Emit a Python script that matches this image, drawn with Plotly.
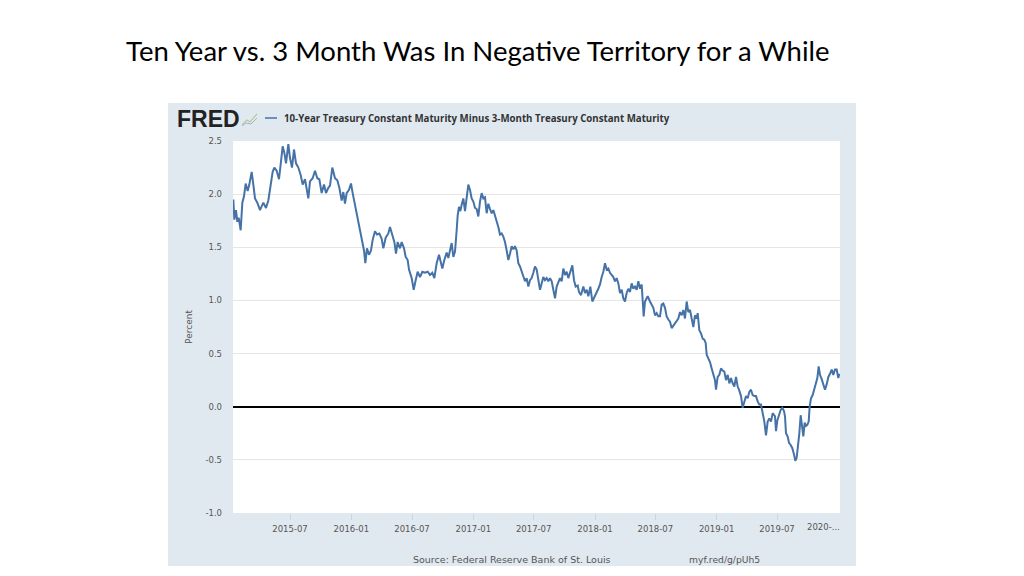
import plotly.graph_objects as go

# ---------------- data ----------------
dates = [
    "2015-01-12", "2015-01-15", "2015-01-20", "2015-01-24", "2015-01-28", "2015-02-03", "2015-02-08", "2015-02-13",
    "2015-02-18", "2015-02-24", "2015-03-01", "2015-03-08", "2015-03-13", "2015-03-18", "2015-03-25", "2015-04-02",
    "2015-04-12", "2015-04-20", "2015-04-27", "2015-05-02", "2015-05-10", "2015-05-15", "2015-05-22", "2015-05-29",
    "2015-06-03", "2015-06-09", "2015-06-14", "2015-06-19", "2015-06-26", "2015-07-01", "2015-07-07", "2015-07-13",
    "2015-07-19", "2015-07-26", "2015-08-02", "2015-08-08", "2015-08-15", "2015-08-20", "2015-08-25", "2015-08-30",
    "2015-09-07", "2015-09-14", "2015-09-21", "2015-09-27", "2015-10-04", "2015-10-11", "2015-10-17", "2015-10-24",
    "2015-10-29", "2015-11-05", "2015-11-13", "2015-11-20", "2015-11-26",
    "2015-12-03", "2015-12-08", "2015-12-13", "2015-12-18", "2015-12-25", "2015-12-31", "2016-01-05", "2016-01-10",
    "2016-01-15", "2016-01-20", "2016-01-24", "2016-01-29", "2016-02-03", "2016-02-08", "2016-02-12", "2016-02-17",
    "2016-02-23", "2016-02-29", "2016-03-05", "2016-03-12", "2016-03-18", "2016-03-25", "2016-04-01", "2016-04-06",
    "2016-04-13", "2016-04-21", "2016-04-26", "2016-05-03", "2016-05-09", "2016-05-14", "2016-05-19", "2016-05-26",
    "2016-05-31", "2016-06-07", "2016-06-12", "2016-06-18", "2016-06-22", "2016-06-30", "2016-07-06", "2016-07-12",
    "2016-07-18", "2016-07-25", "2016-08-01", "2016-08-09", "2016-08-17", "2016-08-24", "2016-08-31", "2016-09-06",
    "2016-09-13", "2016-09-20", "2016-09-26", "2016-09-30", "2016-10-06", "2016-10-13",
    "2016-10-18", "2016-10-23", "2016-10-28", "2016-11-02", "2016-11-07", "2016-11-12", "2016-11-15", "2016-11-19",
    "2016-11-23", "2016-11-27", "2016-12-02", "2016-12-07", "2016-12-12", "2016-12-17", "2016-12-22", "2016-12-27",
    "2017-01-01", "2017-01-06", "2017-01-11", "2017-01-16", "2017-01-21", "2017-01-26", "2017-01-31", "2017-02-05",
    "2017-02-10", "2017-02-15", "2017-02-20", "2017-02-25", "2017-03-02", "2017-03-07", "2017-03-12", "2017-03-17",
    "2017-03-22", "2017-03-27", "2017-04-01", "2017-04-06", "2017-04-11", "2017-04-16", "2017-04-21", "2017-04-26",
    "2017-05-01", "2017-05-06", "2017-05-11", "2017-05-16", "2017-05-21", "2017-05-26", "2017-05-31", "2017-06-05",
    "2017-06-10", "2017-06-15", "2017-06-20", "2017-06-25", "2017-06-30", "2017-07-05", "2017-07-10", "2017-07-15",
    "2017-07-20", "2017-07-25", "2017-07-30", "2017-08-04", "2017-08-09", "2017-08-14", "2017-08-19", "2017-08-24",
    "2017-08-29", "2017-09-03", "2017-09-08", "2017-09-13",
    "2017-09-18", "2017-09-23", "2017-09-28", "2017-10-03", "2017-10-08", "2017-10-13", "2017-10-18", "2017-10-25",
    "2017-10-30", "2017-11-04", "2017-11-10", "2017-11-14", "2017-11-20", "2017-11-27", "2017-12-02", "2017-12-07",
    "2017-12-12", "2017-12-18", "2017-12-24", "2017-12-30", "2018-01-05", "2018-01-11", "2018-01-16", "2018-01-21",
    "2018-01-26", "2018-01-31", "2018-02-05", "2018-02-10", "2018-02-15", "2018-02-20", "2018-02-25", "2018-03-02",
    "2018-03-07", "2018-03-12", "2018-03-17", "2018-03-22", "2018-03-27", "2018-04-01", "2018-04-06", "2018-04-11",
    "2018-04-16", "2018-04-21", "2018-04-26", "2018-05-01", "2018-05-06", "2018-05-11", "2018-05-16", "2018-05-21",
    "2018-05-24", "2018-05-27", "2018-05-31", "2018-06-08", "2018-06-15", "2018-06-20", "2018-06-25", "2018-06-30",
    "2018-07-05", "2018-07-10", "2018-07-15", "2018-07-20", "2018-07-25", "2018-07-30", "2018-08-04", "2018-08-09",
    "2018-08-14", "2018-08-19", "2018-08-24", "2018-08-29", "2018-09-03", "2018-09-08", "2018-09-13", "2018-09-18",
    "2018-09-23", "2018-09-28", "2018-10-03", "2018-10-08", "2018-10-13", "2018-10-18", "2018-10-23", "2018-10-28",
    "2018-11-02", "2018-11-05", "2018-11-10", "2018-11-15", "2018-11-20", "2018-11-25", "2018-11-29", "2018-12-02",
    "2018-12-07", "2018-12-12", "2018-12-17", "2018-12-22", "2018-12-27", "2018-12-30", "2019-01-04", "2019-01-09",
    "2019-01-14", "2019-01-19", "2019-01-24", "2019-01-29", "2019-02-03", "2019-02-08", "2019-02-13", "2019-02-18",
    "2019-02-23", "2019-02-28", "2019-03-05", "2019-03-09", "2019-03-15", "2019-03-20", "2019-03-25", "2019-03-30",
    "2019-04-04", "2019-04-09", "2019-04-14", "2019-04-19", "2019-04-24", "2019-04-29", "2019-05-04", "2019-05-09",
    "2019-05-14", "2019-05-17", "2019-05-21", "2019-05-24", "2019-05-29", "2019-06-03", "2019-06-08", "2019-06-13",
    "2019-06-18", "2019-06-25", "2019-06-28", "2019-07-02", "2019-07-07", "2019-07-12", "2019-07-17", "2019-07-22",
    "2019-07-25", "2019-07-28", "2019-08-02", "2019-08-06", "2019-08-11", "2019-08-16", "2019-08-21", "2019-08-25",
    "2019-08-29", "2019-09-02", "2019-09-06", "2019-09-10", "2019-09-14", "2019-09-18", "2019-09-22", "2019-09-26",
    "2019-09-30", "2019-10-04", "2019-10-07", "2019-10-11", "2019-10-16", "2019-10-21", "2019-10-26", "2019-10-30",
    "2019-11-03", "2019-11-07", "2019-11-12", "2019-11-17", "2019-11-22", "2019-11-27", "2019-12-02", "2019-12-07",
    "2019-12-12", "2019-12-17", "2019-12-22", "2019-12-27", "2020-01-01", "2020-01-04",
]

spread = [
    1.95, 1.76, 1.85, 1.74, 1.78, 1.66, 1.92, 1.98,
    2.10, 2.03, 2.09, 2.21, 2.09, 1.96, 1.92, 1.85,
    1.92, 1.87, 1.94, 2.06, 2.21, 2.25, 2.22, 2.14,
    2.28, 2.45, 2.39, 2.29, 2.47, 2.34, 2.25, 2.42,
    2.29, 2.25, 2.18, 2.09, 2.14, 2.06, 1.96, 2.12,
    2.15, 2.22, 2.15, 2.14, 2.01, 2.09, 2.01, 2.06,
    2.08, 2.25, 2.15, 2.13, 2.06,
    1.94, 2.02, 1.91, 2.01, 2.04, 2.10, 2.01, 1.93,
    1.82, 1.76, 1.71, 1.62, 1.55, 1.47, 1.35, 1.49,
    1.43, 1.47, 1.57, 1.65, 1.62, 1.63, 1.58, 1.49,
    1.59, 1.63, 1.69, 1.62, 1.55, 1.44, 1.55, 1.49,
    1.55, 1.49, 1.41, 1.38, 1.29, 1.21, 1.10, 1.19,
    1.27, 1.22, 1.27, 1.26, 1.27, 1.24, 1.26, 1.21,
    1.35, 1.43, 1.36, 1.30, 1.38, 1.45,
    1.40, 1.46, 1.54, 1.41, 1.46, 1.66, 1.80, 1.88,
    1.84, 1.90, 1.96, 1.84, 1.98, 2.09, 2.04, 1.96,
    1.93, 1.87, 1.86, 1.79, 1.93, 2.01, 1.96, 1.97,
    1.82, 1.91, 1.86, 1.82, 1.85, 1.80, 1.74, 1.69,
    1.62, 1.63, 1.60, 1.55, 1.47, 1.38, 1.44, 1.51,
    1.48, 1.51, 1.47, 1.35, 1.32, 1.27, 1.21, 1.18,
    1.21, 1.13, 1.19, 1.21, 1.26, 1.32, 1.29, 1.21,
    1.10, 1.16, 1.22, 1.19, 1.21, 1.18, 1.21, 1.18,
    1.11, 1.02, 1.13, 1.17,
    1.21, 1.18, 1.30, 1.24, 1.27, 1.21, 1.26, 1.33,
    1.19, 1.13, 1.14, 1.08, 1.05, 1.13, 1.07, 1.10,
    1.04, 1.13, 0.99, 1.04, 1.07, 1.11, 1.15, 1.22,
    1.27, 1.35, 1.29, 1.30, 1.26, 1.24, 1.22, 1.18,
    1.21, 1.16, 1.07, 1.10, 1.02, 0.99, 1.07, 1.11,
    1.08, 1.16, 1.11, 1.13, 1.10, 1.18, 1.11, 1.15,
    1.04, 0.85, 0.99, 1.04, 0.99, 0.96, 0.93, 0.86,
    0.88, 0.85, 0.85, 0.96, 0.97, 0.93, 0.85, 0.82,
    0.80, 0.74, 0.76, 0.79, 0.80, 0.83, 0.89, 0.86,
    0.91, 0.83, 0.99, 0.89, 0.91, 0.82, 0.75, 0.86,
    0.83, 0.88, 0.72, 0.69, 0.64, 0.63, 0.60, 0.49,
    0.46, 0.42, 0.36, 0.30, 0.25, 0.16, 0.28, 0.30,
    0.36, 0.34, 0.33, 0.25, 0.30, 0.22, 0.27, 0.22,
    0.19, 0.28, 0.19, 0.16, 0.10, -0.01, 0.05, 0.10,
    0.08, 0.14, 0.16, 0.11, 0.10, 0.10, 0.05, 0.02,
    0.02, -0.03, -0.06, -0.14, -0.27, -0.14, -0.11, -0.14,
    -0.06, -0.09, -0.23, -0.13, -0.08, -0.03, -0.01, -0.04,
    -0.09, -0.25, -0.28, -0.34, -0.36, -0.39, -0.45, -0.51,
    -0.48, -0.37, -0.25, -0.08, -0.19, -0.28, -0.15, -0.18,
    -0.17, -0.14, 0.00, 0.08, 0.11, 0.16, 0.21, 0.27,
    0.38, 0.30, 0.26, 0.21, 0.16, 0.21, 0.28, 0.31,
    0.35, 0.30, 0.35, 0.35, 0.27, 0.31,
]

tick_dates = ["2015-07-01", "2016-01-01", "2016-07-01", "2017-01-01", "2017-07-01",
              "2018-01-01", "2018-07-01", "2019-01-01", "2019-07-01"]
tick_labels = ["2015-07", "2016-01", "2016-07", "2017-01", "2017-07",
               "2018-01", "2018-07", "2019-01", "2019-07"]
last_tick_date = "2020-01-01"
last_tick_label = "2020-..."

y_tick_vals = [-1.0, -0.5, 0.0, 0.5, 1.0, 1.5, 2.0, 2.5]
y_tick_labels = ["-1.0", "-0.5", "0.0", "0.5", "1.0", "1.5", "2.0", "2.5"]

x_range = ["2015-01-11", "2020-01-06"]
y_range = [-1.0, 2.5]

series_name = "10-Year Treasury Constant Maturity Minus 3-Month Treasury Constant Maturity"
slide_title = "Ten Year vs. 3 Month Was In Negative Territory for a While"

# ---------------- layout geometry ----------------
# The page body has an 8px margin, so figure pixel = screen pixel - 8.
OFF = 8
W, H = 1008, 560
PL, PR, PT, PB = 233 - OFF, 840 - OFF, 141 - OFF, 513 - OFF


def px(x):
    """screen x (px) -> paper x"""
    return (x - OFF - PL) / (PR - PL)


def py(y):
    """screen y (px) -> paper y"""
    return (PB - (y - OFF)) / (PB - PT)


FRED_BG = "#e1e9f0"
LINE = "#4572a7"
TXT = "#555555"
TICKFONT = dict(family="DejaVu Sans, sans-serif", size=8.5, color=TXT)

fig = go.Figure()
fig.add_trace(go.Scatter(
    x=dates, y=spread, mode="lines",
    line=dict(color=LINE, width=2),
    name=series_name, showlegend=False, hoverinfo="x+y",
))

shapes = [
    # FRED graph background
    dict(type="rect", xref="paper", yref="paper", layer="below",
         x0=px(168), x1=px(856), y0=py(566), y1=py(103),
         fillcolor=FRED_BG, line=dict(width=0)),
    # white plot area
    dict(type="rect", xref="paper", yref="paper", layer="below",
         x0=0, x1=1, y0=0, y1=1, fillcolor="white", line=dict(width=0)),
    # legend swatch
    dict(type="line", xref="paper", yref="paper",
         x0=px(265), x1=px(277), y0=py(118), y1=py(118),
         line=dict(color=LINE, width=1.5)),
    # small FRED logo chart icon
    dict(type="path", xref="paper", yref="paper",
         path=f"M {px(242)} {py(125)} L {px(247)} {py(120)} L {px(250)} {py(122)} L {px(257)} {py(114)}",
         line=dict(color="#b7c99a", width=1.2)),
    dict(type="path", xref="paper", yref="paper",
         path=f"M {px(242)} {py(126)} L {px(246)} {py(123)} L {px(251)} {py(124)} L {px(257)} {py(118)}",
         line=dict(color="#9fb3c8", width=1.0)),
]

annotations = [
    dict(text=slide_title, xref="paper", yref="paper", x=px(124), y=py(50),
         xanchor="left", yanchor="middle", showarrow=False,
         font=dict(family="Lato, Carlito, sans-serif", size=27.5, color="#000000")),
    dict(text="<b>FRED</b>", xref="paper", yref="paper", x=px(175), y=py(119),
         xanchor="left", yanchor="middle", showarrow=False,
         font=dict(family="Liberation Sans, Arial, sans-serif", size=23, color="#222222")),
    dict(text="<b>" + series_name + "</b>", xref="paper", yref="paper", x=px(282), y=py(118),
         xanchor="left", yanchor="middle", showarrow=False,
         font=dict(family="Open Sans, DejaVu Sans, sans-serif", size=9.7, color="#333333")),
    dict(text="Source: Federal Reserve Bank of St. Louis", xref="paper", yref="paper",
         x=px(512), y=py(559), xanchor="center", yanchor="middle", showarrow=False,
         font=dict(family="DejaVu Sans, sans-serif", size=9.5, color=TXT)),
    dict(text="myf.red/g/pUh5", xref="paper", yref="paper",
         x=px(724), y=py(559), xanchor="center", yanchor="middle", showarrow=False,
         font=dict(family="DejaVu Sans, sans-serif", size=9.2, color=TXT)),
    dict(text=last_tick_label, xref="x", yref="paper", x=last_tick_date, y=py(527),
         xanchor="right", yanchor="middle", xshift=4, showarrow=False,
         font=TICKFONT),
]

fig.update_layout(
    width=W, height=H,
    margin=dict(l=PL, r=W - PR, t=PT, b=H - PB, pad=0),
    paper_bgcolor="white",
    plot_bgcolor="rgba(0,0,0,0)",
    shapes=shapes,
    annotations=annotations,
    xaxis=dict(
        type="date", range=x_range,
        tickvals=tick_dates, ticktext=tick_labels,
        showgrid=False, zeroline=False, showline=False,
        ticks="outside", ticklen=6, tickcolor="#ccd6df",
        tickfont=TICKFONT,
        ticklabelstandoff=2,
    ),
    yaxis=dict(
        range=y_range, tickvals=y_tick_vals, ticktext=y_tick_labels,
        showgrid=True, gridcolor="#e6e6e6", gridwidth=1,
        zeroline=True, zerolinecolor="#000000", zerolinewidth=2,
        showline=False, ticks="",
        tickfont=TICKFONT,
        ticklabelstandoff=10,
        title=dict(text="Percent", standoff=11,
                   font=dict(family="DejaVu Sans, sans-serif", size=9, color=TXT)),
    ),
    showlegend=False,
)

fig.write_html("out.html")
